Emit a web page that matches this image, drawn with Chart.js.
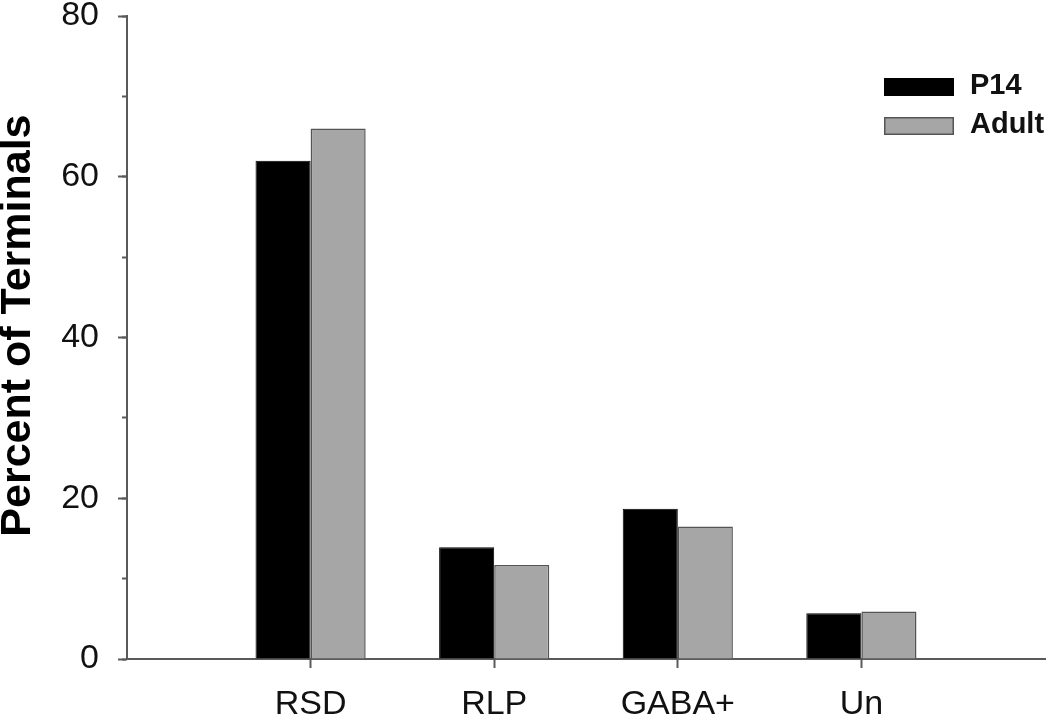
<!DOCTYPE html>
<html>
<head>
<meta charset="utf-8">
<script src="https://cdn.jsdelivr.net/npm/chart.js@4/dist/chart.umd.min.js"></script>
<style>
  html, body { margin: 0; padding: 0; background: #fff; }
  #wrap { width: 1050px; height: 721px; position: relative; }
</style>
</head>
<body>
<div id="wrap"><canvas id="chart"></canvas></div>
<script>
// data (empty categories pad both ends of the axis)
const categories = ['', 'RSD', 'RLP', 'GABA+', 'Un', ''];
const p14Values = [null, 62, 13.9, 18.7, 5.7, null];
const adultValues = [null, 66, 11.7, 16.5, 5.9, null];
const seriesLabels = ['P14', 'Adult'];
const yMin = 0, yMax = 80, yMajorStep = 20, yMinorStep = 10;

const family = '"Liberation Sans", Arial, Helvetica, sans-serif';
const axisColor = '#5a5a5a';
const textColor = '#111';

// small box legend, stacked in two rows at the top right of the plot
const boxLegend = {
  id: 'boxLegend',
  afterDraw(chart) {
    const ctx = chart.ctx;
    const area = chart.chartArea;
    const x0 = area.right - 161;
    const y0 = area.top + 62;
    ctx.save();
    chart.data.datasets.forEach((ds, i) => {
      const y = y0 + i * 39;
      ctx.fillStyle = ds.backgroundColor;
      ctx.fillRect(x0, y, 70, 18);
      ctx.lineWidth = 1.5;
      ctx.strokeStyle = ds.borderColor;
      ctx.strokeRect(x0 + 0.75, y + 0.75, 68.5, 16.5);
      ctx.fillStyle = textColor;
      ctx.font = 'bold 29px ' + family;
      ctx.textBaseline = 'middle';
      ctx.textAlign = 'left';
      ctx.fillText(ds.label, x0 + 86, y + 8);
    });
    ctx.restore();
  }
};

new Chart(document.getElementById('chart').getContext('2d'), {
  type: 'bar',
  data: {
    labels: categories,
    datasets: [
      {
        label: seriesLabels[0],
        data: p14Values,
        backgroundColor: '#000000',
        borderColor: '#000000',
        borderWidth: 1
      },
      {
        label: seriesLabels[1],
        data: adultValues,
        backgroundColor: '#a6a6a6',
        borderColor: '#555555',
        borderWidth: 1.5
      }
    ]
  },
  options: {
    responsive: true,
    maintainAspectRatio: false,
    animation: false,
    layout: { padding: { top: 16, right: 5, left: 0, bottom: 0 } },
    datasets: { bar: { categoryPercentage: 0.6, barPercentage: 1.0 } },
    scales: {
      x: {
        type: 'category',
        offset: false,
        grid: {
          offset: false,
          drawOnChartArea: false,
          tickLength: 9,
          tickWidth: 2,
          tickColor: c => (categories[c.index] ? axisColor : 'rgba(0,0,0,0)')
        },
        border: { color: axisColor, width: 2 },
        ticks: {
          color: textColor,
          font: { size: 34, family: family },
          padding: 16,
          maxRotation: 0,
          autoSkip: false
        },
        afterFit: s => { s.height = 62; s.paddingLeft = 0; s.paddingRight = 0; }
      },
      y: {
        position: 'left',
        weight: 1,
        min: yMin,
        max: yMax,
        ticks: {
          stepSize: yMajorStep,
          color: textColor,
          font: { size: 34, family: family },
          padding: 19
        },
        grid: { drawOnChartArea: false, tickLength: 9, tickWidth: 2, tickColor: axisColor },
        border: { color: axisColor, width: 2 },
        title: {
          display: true,
          // leading spaces nudge the centred title up, as in the figure
          text: '  Percent of Terminals',
          color: '#000',
          font: { size: 43, weight: 'bold', family: family, lineHeight: 0.86 },
          padding: 0
        },
        afterFit: s => { s.width = 127; s.paddingTop = 0; s.paddingBottom = 0; }
      },
      yMinor: {
        position: 'left',
        weight: 0,
        min: yMin,
        max: yMax,
        ticks: { display: false, stepSize: yMinorStep },
        grid: { drawOnChartArea: false, tickLength: 5, tickWidth: 2, tickColor: axisColor },
        border: { display: false },
        afterFit: s => { s.width = 0; s.paddingTop = 0; s.paddingBottom = 0; }
      }
    },
    plugins: {
      legend: { display: false },
      tooltip: { enabled: false }
    }
  },
  plugins: [boxLegend]
});
</script>
</body>
</html>
